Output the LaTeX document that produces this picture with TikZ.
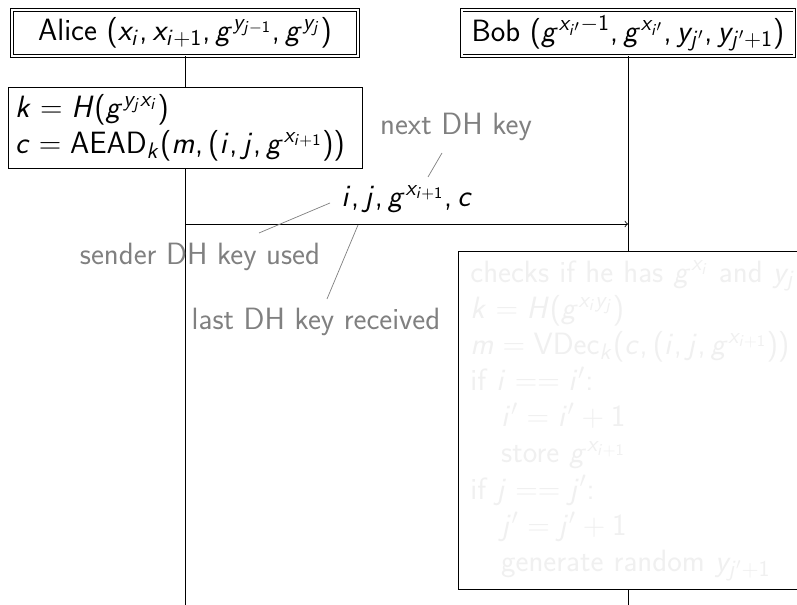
\documentclass[tikz,border=0pt]{standalone}
\usepackage{fix-cm}
\usepackage{amsmath}
\usepackage{tikz}
\usetikzlibrary{positioning, arrows, calc}
% sans serif text and math, as on the slides
\renewcommand{\familydefault}{\sfdefault}
\DeclareSymbolFont{sfletters}{OT1}{cmss}{m}{sl}
\SetSymbolFont{operators}{normal}{OT1}{cmss}{m}{n}
\DeclareMathSymbol{c}{\mathalpha}{sfletters}{`c}
\DeclareMathSymbol{g}{\mathalpha}{sfletters}{`g}
\DeclareMathSymbol{i}{\mathalpha}{sfletters}{`i}
\DeclareMathSymbol{j}{\mathalpha}{sfletters}{`j}
\DeclareMathSymbol{k}{\mathalpha}{sfletters}{`k}
\DeclareMathSymbol{m}{\mathalpha}{sfletters}{`m}
\DeclareMathSymbol{x}{\mathalpha}{sfletters}{`x}
\DeclareMathSymbol{y}{\mathalpha}{sfletters}{`y}
\DeclareMathSymbol{H}{\mathalpha}{sfletters}{`H}
\DeclareMathSymbol{,}{\mathpunct}{operators}{`,}
\DeclareMathSizes{17.28}{17.28}{12.6}{9}
\tikzset{
every node/.style={font=\fontsize{17.28}{20.3}\selectfont}, % slide sized text
>=to, % small open tip on the message
}

\begin{document}
\begin{tikzpicture}[x=0.01972cm, y=0.01972cm, line width=0.45pt,
    head/.style = {draw, double, double distance=1.2pt, fill=white, inner ysep=2pt, minimum height=0.9cm},
    work/.style = {draw, fill=white, align=left},
    note/.style = {draw=gray, line width=0.4pt},
    aside/.style = {text=gray}]
    \useasboundingbox (0,0) rectangle (797,605);
    \coordinate (floor) at (0,0);

    % the two parties and their lifelines
    \node[head, minimum width=6.82cm] (alice) at (185,572) {Alice $(x_i, x_{i+1}, g^{y_{j-1}}, g^{y_j})$};
    \node[head, minimum width=6.56cm] (bob) at (628,572) {Bob $(g^{x_{i'}-1}, g^{x_{i'}}, y_{j'}, y_{j'+1})$};
    \draw (alice.south) -- (alice |- floor);
    \draw (bob.south) -- (bob |- floor);

    % Alice encrypts
    \node[work, text width=6.7cm, inner xsep=4pt, inner ysep=4pt] (enc) at (185,477) {$k = H(g^{y_j x_i})$\\ $c = \mathrm{AEAD}_k(m, (i, j, g^{x_{i+1}}))$};

    % the message
    \coordinate (send) at (185,381);
    \draw[->] (send) -- (bob |- send);
    \node (msg) at (407,406) {$i, j, g^{x_{i+1}}, c$};

    % what the fields stand for
    \node[aside] (nextkey) at (456,478) {next DH key};
    \node[aside] (sender) at (200,348) {sender DH key used};
    \node[aside] (last) at (316,283) {last DH key received};
    \draw[note] ($(msg)+(21,22)$) -- ($(nextkey)+(-14,-26)$);
    \draw[note] ($(msg)+(-77,-4)$) -- ($(sender)+(59,24)$);
    \draw[note] ($(msg)+(-49,-26)$) -- ($(last)+(11,23)$);

    % Bob checks, still faded
    \node[work, anchor=north west, text width=6.61cm, inner xsep=0.237cm, minimum height=6.67cm, text=black!6] (check) at (458,354) {checks if he has $g^{x_i}$ and $y_j$\\
        $k = H(g^{x_i y_j})$\\
        $m = \mathrm{VDec}_k(c, (i, j, g^{x_{i+1}}))$\\
        if $i == i'$:\\
        \quad $i' = i' + 1$\\
        \quad store $g^{x_{i+1}}$\\
        if $j == j'$:\\
        \quad $j' = j' + 1$\\
        \quad generate random $y_{j'+1}$};
\end{tikzpicture}
\end{document}
